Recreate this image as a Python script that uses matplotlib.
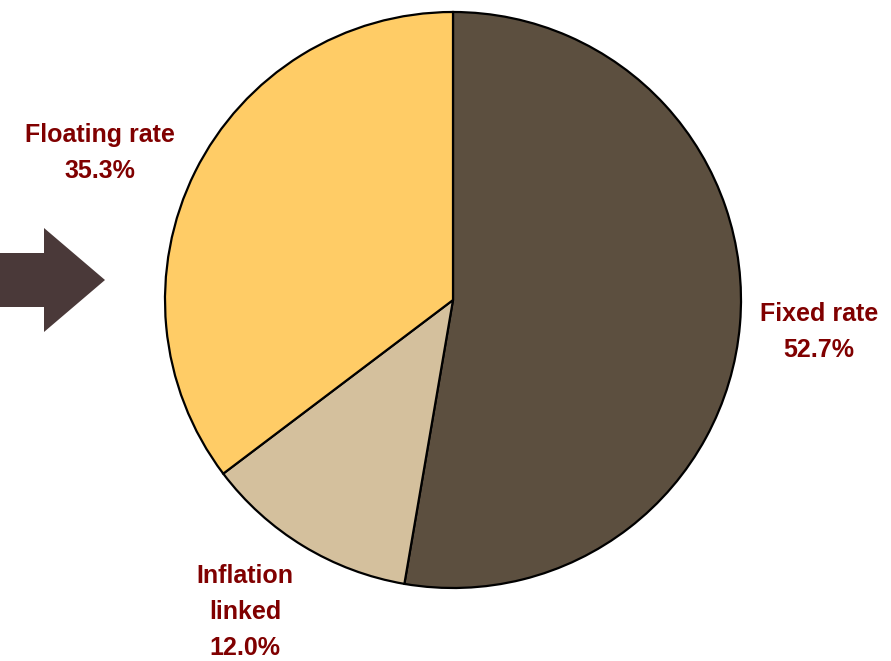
import matplotlib.pyplot as plt
from matplotlib.patches import Polygon

labels = ['Fixed rate', 'Inflation\nlinked', 'Floating rate']
shares = [52.7, 12.0, 35.3]
colors = ['#5C4F3F', '#D4C09D', '#FFCC66']

fig = plt.figure(figsize=(8.91, 6.61), dpi=100)
ax = fig.add_axes([0, 0, 1, 1])
ax.set_xlim(0, 891)
ax.set_ylim(661, 0)
ax.set_aspect('equal')
ax.axis('off')

# pie drawn clockwise from the top (y axis is flipped, so counterclock=True looks clockwise)
ax.pie(shares, colors=colors, startangle=-90, counterclock=True,
       center=(453, 300), radius=288,
       wedgeprops=dict(edgecolor='black', linewidth=1.6))
ax.set_xlim(0, 891)
ax.set_ylim(661, 0)

# arrow on the left
arrow = Polygon([(0, 253), (44, 253), (44, 228), (105, 280), (44, 332), (44, 307), (0, 307)],
                closed=True, facecolor='#4A3939', edgecolor='none')
ax.add_patch(arrow)

txt = dict(color='#800000', fontsize=18, fontweight='bold', family='Liberation Sans',
           ha='center', va='center', linespacing=1.62)
ax.text(819, 332, labels[0] + '\n' + f'{shares[0]:.1f}%', **txt)
ax.text(245, 612, labels[1] + '\n' + f'{shares[1]:.1f}%', **txt)
ax.text(100, 153, labels[2] + '\n' + f'{shares[2]:.1f}%', **txt)

fig.savefig('out.png', dpi=100)
